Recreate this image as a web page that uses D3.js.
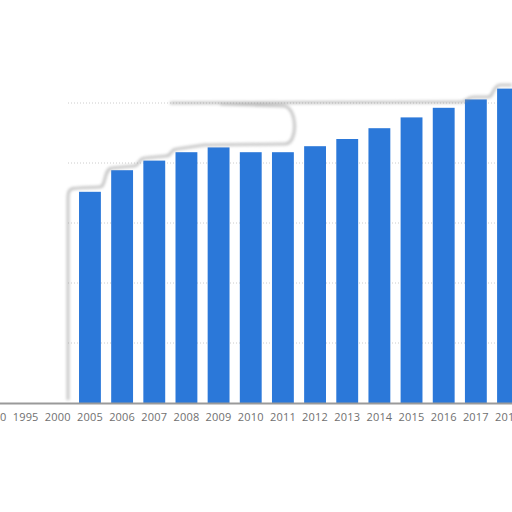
<!DOCTYPE html>
<html>
<head>
<meta charset="utf-8">
<script src="https://cdn.jsdelivr.net/npm/d3@7"></script>
<style>
  html, body { margin: 0; padding: 0; background: #fff; }
  svg { display: block; }
</style>
</head>
<body>
<svg id="chart" width="512" height="512"></svg>
<script>
// Data (bars for 1990–2000 are blanked out in the reference)
const years  = ["1990","1995","2000","2005","2006","2007","2008","2009","2010","2011","2012","2013","2014","2015","2016","2017","2018"];
const values = [null, null, null, 176, 194, 202, 209, 213, 209, 209, 214, 220, 229, 238, 246, 253, 262];
const gridTicks = [50, 100, 150, 200, 250];

const svg = d3.select("#chart");
const W = 512, H = 512;

const x = d3.scaleBand()
  .domain(years)
  .range([-22.6, 524.1])
  .paddingInner(0.32)
  .paddingOuter(0.16);

const y = d3.scaleLinear()
  .domain([0, 250])
  .range([403, 103]);

const defs = svg.append("defs");
defs.append("filter").attr("id", "blur")
  .attr("x", "-20%").attr("y", "-20%").attr("width", "140%").attr("height", "140%")
  .append("feGaussianBlur").attr("stdDeviation", 1.8);

// gridlines (dotted)
svg.append("g")
  .selectAll("line")
  .data(gridTicks)
  .join("line")
  .attr("x1", 68).attr("x2", W)
  .attr("y1", d => y(d)).attr("y2", d => y(d))
  .attr("stroke", "#cccccc")
  .attr("stroke-width", 1)
  .attr("stroke-dasharray", "1,2");

// bars
svg.append("g")
  .selectAll("rect")
  .data(years.map((k, i) => ({ k, v: values[i] })).filter(d => d.v != null))
  .join("rect")
  .attr("x", d => x(d.k))
  .attr("width", x.bandwidth())
  .attr("y", d => y(d.v))
  .attr("height", d => y(0) - y(d.v))
  .attr("fill", "#2b78d9");

// x axis
const axis = svg.append("g")
  .attr("transform", `translate(0,${y(0)})`)
  .call(d3.axisBottom(x).tickSize(0).tickPadding(10));
axis.select(".domain").remove();
axis.selectAll("text")
  .attr("fill", "#707070")
  .style("font-family", "'Open Sans', sans-serif")
  .style("font-size", "11px")
  .style("letter-spacing", "0.2px");

svg.append("line")
  .attr("x1", 0).attr("x2", W)
  .attr("y1", y(0) + 0.5).attr("y2", y(0) + 0.5)
  .attr("stroke", "#9a9a9a")
  .attr("stroke-width", 2);

// soft grey edit smudges seen in the reference
const smudge = svg.append("g")
  .attr("fill", "none")
  .attr("stroke", "#8a8a8a")
  .attr("stroke-width", 2.6)
  .attr("opacity", 0.55)
  .attr("filter", "url(#blur)");
smudge.append("path")
  .attr("d", "M68,400 L68,198 C68,190 70,188 78,188 L100,187 C106,187 104,168 112,168 L134,166 C140,166 138,158 145,158 L166,156 C172,156 170,149 177,149 L204,145 L285,144 C298,144 298,108 284,106 L220,104");
smudge.append("path")
  .attr("d", "M170,103 L460,102 C468,102 466,97 474,97 L488,97 C494,97 492,86 500,85 L512,85");
</script>
</body>
</html>
